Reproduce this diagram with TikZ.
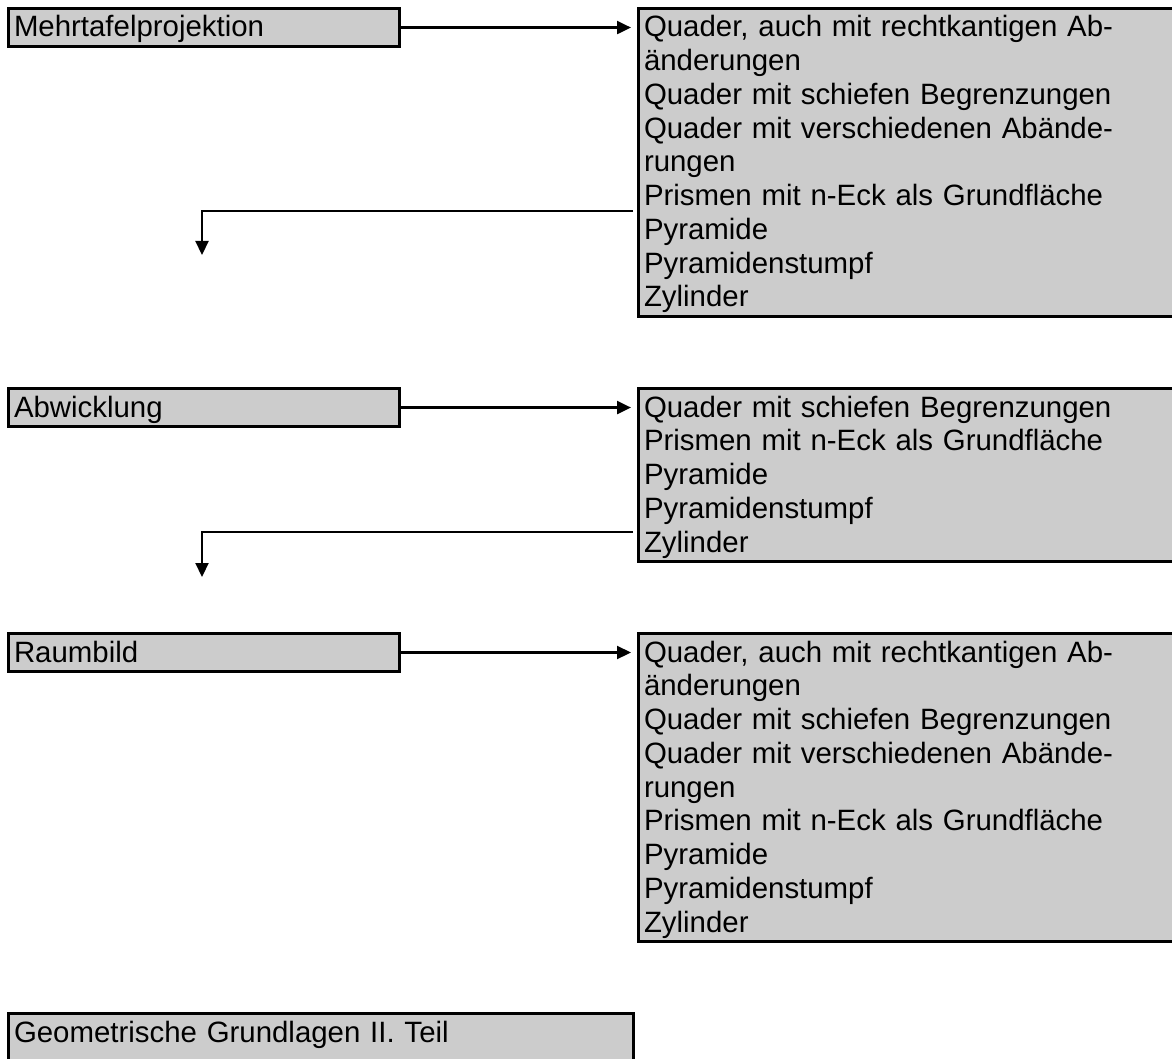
\documentclass[tikz,border=0pt]{standalone}
\usepackage{fontspec}
\setmainfont{Liberation Sans}
\usepackage{xcolor}
\usetikzlibrary{arrows.meta}
\usetikzlibrary{positioning}
\definecolor{custom-gray}{RGB}{204, 204, 204}

\begin{document}
\begin{tikzpicture}[x=0.5pt, y=-0.5pt,
    kasten/.style={draw=black, fill=custom-gray, line width=1.4pt, anchor=north west, align=left, inner xsep=2.8pt, inner ysep=1.8pt, font=\fontsize{14.7}{16.875}\selectfont, execute at begin node={\rule[-3pt]{0pt}{15.5pt}}},
    titel/.style={kasten, text width=190pt},
    liste/.style={kasten, text width=270pt},
    pfeil/.style={line width=1.1pt, -{Triangle[length=7pt, width=6.5pt]}}]
\useasboundingbox (0,0) rectangle (1172,1059);

\node[titel] (mehrtafel) at (7,7) {Mehrtafelprojektion};
\node[liste] (liste-mehrtafel) at (637,7) {Quader, auch mit rechtkantigen Ab-\\änderungen\\Quader mit schiefen Begrenzungen\\Quader mit verschiedenen Abände-\\rungen\\Prismen mit n-Eck als Grundfläche\\Pyramide\\Pyramidenstumpf\\Zylinder};

\node[titel] (abwicklung) at (7,387) {Abwicklung};
\node[liste] (liste-abwicklung) at (637,387) {Quader mit schiefen Begrenzungen\\Prismen mit n-Eck als Grundfläche\\Pyramide\\Pyramidenstumpf\\Zylinder};

\node[titel] (raumbild) at (7,632) {Raumbild};
\node[liste] (liste-raumbild) at (637,632) {Quader, auch mit rechtkantigen Ab-\\änderungen\\Quader mit schiefen Begrenzungen\\Quader mit verschiedenen Abände-\\rungen\\Prismen mit n-Eck als Grundfläche\\Pyramide\\Pyramidenstumpf\\Zylinder};

\node[kasten, text width=307pt] (grundlagen) at (7,1012) {Geometrische Grundlagen II. Teil\rule[-25pt]{0pt}{25pt}};

\draw[pfeil, shorten >=3pt] (mehrtafel.east) -- (mehrtafel.east -| liste-mehrtafel.west);
\draw[pfeil, shorten >=3pt] (abwicklung.east) -- (abwicklung.east -| liste-abwicklung.west);
\draw[pfeil, shorten >=3pt] (raumbild.east) -- (raumbild.east -| liste-raumbild.west);

\coordinate (knick-mehrtafel) at (202,211);
\coordinate (ende-mehrtafel) at (202,255);
\coordinate (knick-abwicklung) at (202,532);
\coordinate (ende-abwicklung) at (202,577);
\draw[pfeil, shorten <=2pt] (liste-mehrtafel.west |- knick-mehrtafel) -- (knick-mehrtafel) -- (ende-mehrtafel);
\draw[pfeil, shorten <=2pt] (liste-abwicklung.west |- knick-abwicklung) -- (knick-abwicklung) -- (ende-abwicklung);

\end{tikzpicture}
\end{document}
